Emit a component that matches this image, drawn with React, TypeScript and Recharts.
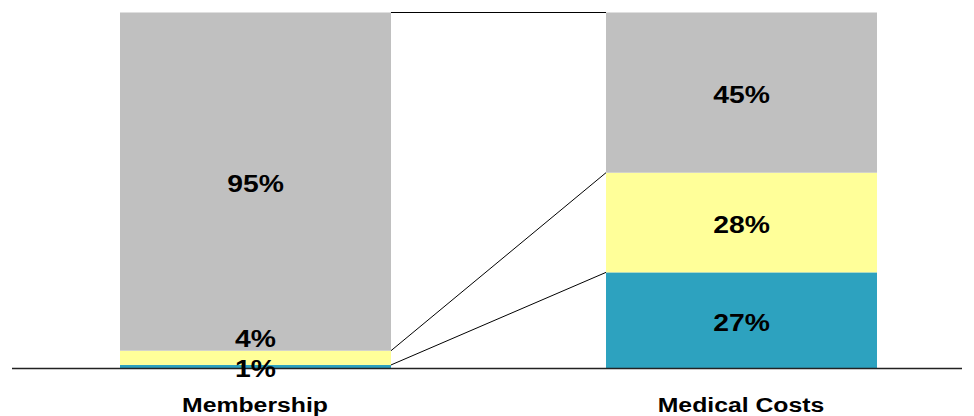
import React from 'react';
import { BarChart, Bar, XAxis, YAxis, LabelList } from 'recharts';

const categories = ['Membership', 'Medical Costs'];
const tealShare = [1, 27];
const yellowShare = [4, 28];
const grayShare = [95, 45];

const data = categories.map((name, i) => ({
    name,
    teal: tealShare[i],
    yellow: yellowShare[i],
    gray: grayShare[i],
}));

const FONT = '"Liberation Sans", Arial, sans-serif';
const STRETCH = 1.18;

type Rect = { x: number; y: number; width: number; height: number };

const App: React.FC = () => {
    // top edge of each segment in the first column, used to draw series lines
    const tops: Record<string, Rect> = {};

    const segmentShape = (key: string, fill: string) => (props: any) => {
        const { x, y, width, height, index } = props;
        if (index === 0) tops[key] = { x, y, width, height };
        const prev = tops[key];
        return (
            <g>
                <rect x={x} y={y} width={width} height={height} fill={fill} />
                {index === 1 && prev && (
                    <line
                        x1={prev.x + prev.width}
                        y1={prev.y}
                        x2={x}
                        y2={y}
                        stroke="#000"
                        strokeWidth={1}
                    />
                )}
            </g>
        );
    };

    const segmentLabel = (above: boolean) => (props: any) => {
        const { x, y, width, height, value } = props;
        const cx = x + width / 2;
        const thin = height < 20;
        const baseline = thin && above ? y - 4 : y + height / 2 + 10.5;
        return (
            <text
                transform={`translate(${cx},${baseline}) scale(${STRETCH},1)`}
                textAnchor="middle"
                fontFamily={FONT}
                fontWeight="bold"
                fontSize={24}
                fill="#000"
            >
                {`${value}%`}
            </text>
        );
    };

    const categoryTick = (props: any) => {
        const { x, y, payload } = props;
        return (
            <text
                transform={`translate(${x},${y + 43}) scale(${STRETCH},1)`}
                textAnchor="middle"
                fontFamily={FONT}
                fontWeight="bold"
                fontSize={21}
                fill="#000"
            >
                {payload.value}
            </text>
        );
    };

    return (
        <div style={{ position: 'absolute', left: 0, top: 0, width: 974, height: 416, background: '#fff' }}>
            <BarChart
                width={974}
                height={416}
                data={data}
                margin={{ top: 12.5, right: 12, left: 12, bottom: 17.5 }}
                barSize={271}
            >
                <XAxis
                    dataKey="name"
                    height={30}
                    padding={{ left: 0, right: -22 }}
                    tickLine={false}
                    tickSize={0}
                    tickMargin={0}
                    axisLine={{ stroke: '#222', strokeWidth: 1.4 }}
                    tick={categoryTick}
                    interval={0}
                />
                <YAxis hide domain={[0, 100]} />
                <Bar dataKey="teal" stackId="a" isAnimationActive={false} shape={segmentShape('teal', '#2DA2BF')}>
                    <LabelList dataKey="teal" content={segmentLabel(false)} />
                </Bar>
                <Bar dataKey="yellow" stackId="a" isAnimationActive={false} shape={segmentShape('yellow', '#FFFF99')}>
                    <LabelList dataKey="yellow" content={segmentLabel(true)} />
                </Bar>
                <Bar dataKey="gray" stackId="a" isAnimationActive={false} shape={segmentShape('gray', '#C0C0C0')}>
                    <LabelList dataKey="gray" content={segmentLabel(false)} />
                </Bar>
            </BarChart>
        </div>
    );
};

export default App;
